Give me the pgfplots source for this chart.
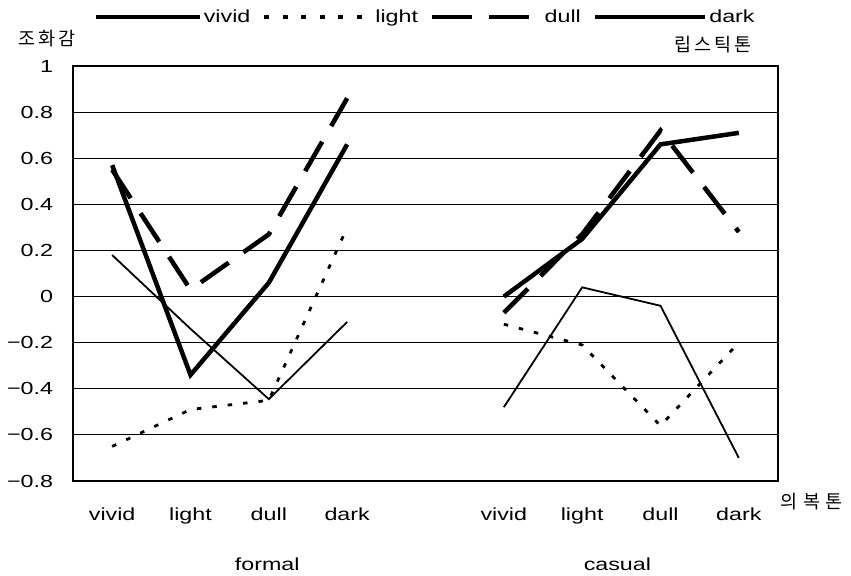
\documentclass[border=0pt]{standalone}
\usepackage{fontspec}
\setmainfont{Liberation Sans}[FakeStretch=1.33]
\newfontfamily\kr{Noto Sans CJK KR}[LetterSpace=16]
\newfontfamily\krwide{Noto Sans CJK KR}[LetterSpace=30]
\usepackage{pgfplots}
\pgfplotsset{compat=1.18}
% legend sample: length, extra draw options
\pgfplotsset{limg/.style 2 args={legend image code/.code={\draw[##1,#2] (0bp,0bp) -- (#1,0bp);}}}

\begin{document}
\fontsize{17.5bp}{20bp}\selectfont
\begin{tikzpicture}
\useasboundingbox (-73bp,-95bp) rectangle (778bp,481bp);
\begin{axis}[
    at={(0bp,0bp)}, anchor=south west,
    scale only axis, width=705bp, height=415bp,
    xmin=-0.5, xmax=8.5,
    ymin=-0.8, ymax=1,
    xtick={0,1,2,3,5,6,7,8},
    xticklabels={vivid,light,dull,dark,vivid,light,dull,dark},
    ytick={-0.8,-0.6,-0.4,-0.2,0,0.2,0.4,0.6,0.8,1},
    yticklabels={−0.8,−0.6,−0.4,−0.2,0,0.2,0.4,0.6,0.8,1},
    major tick length=0pt,
    ymajorgrids=true,
    major grid style={black, line width=1bp},
    axis line style={line width=2bp},
    xticklabel style={yshift=-21bp},
    yticklabel style={xshift=-14bp},
    clip=false,
    unbounded coords=jump,
    legend columns=4,
    legend style={draw=none, fill=none, at={(0.026,1.118)}, anchor=west,
        /tikz/every even column/.append style={column sep=10bp}},
    ]
    % vivid
    \addplot[black, line width=1.8bp, limg={104bp}{line width=3.3bp}]
        coordinates {(0,0.18)(1,-0.14)(2,-0.445)(3,-0.11)(4,nan)
                     (5,-0.48)(6,0.04)(7,-0.04)(8,-0.70)};
    \addlegendentry{vivid}
    % light
    \addplot[black, line width=2.8bp, dash pattern=on 4.5bp off 11bp,
        limg={107bp}{line width=4bp, dash pattern=on 5bp off 13.5bp}]
        coordinates {(0,-0.65)(1,-0.49)(2,-0.45)(3,0.30)(4,nan)
                     (5,-0.12)(6,-0.21)(7,-0.56)(8,-0.20)};
    \addlegendentry{light}
    % dull
    \addplot[black, line width=4.6bp, dash pattern=on 34bp off 18bp,
        limg={108bp}{dash pattern=on 40bp off 17bp}]
        coordinates {(0,0.55)(1,0.03)(2,0.27)(3,0.86)(4,nan)
                     (5,-0.07)(6,0.27)(7,0.72)(8,0.28)};
    \addlegendentry{dull}
    % dark
    \addplot[black, line width=4.5bp, limg={110bp}{}]
        coordinates {(0,0.57)(1,-0.34)(2,0.06)(3,0.66)(4,nan)
                     (5,0.00)(6,0.25)(7,0.66)(8,0.71)};
    \addlegendentry{dark}

    \node at (axis cs:1.98,-0.8) [yshift=-83bp] {formal};
    \node at (axis cs:6.45,-0.8) [yshift=-83bp] {casual};
    \node[font=\kr\fontsize{18.5bp}{20bp}\selectfont] at (axis cs:-0.83,1.121) {조화감};
    \node[font=\kr\fontsize{18.5bp}{20bp}\selectfont] at (axis cs:7.67,1.091) {립스틱톤};
    \node[font=\krwide\fontsize{18.5bp}{20bp}\selectfont] at (axis cs:8.93,-0.89) {의복톤};
\end{axis}
\end{tikzpicture}
\end{document}
